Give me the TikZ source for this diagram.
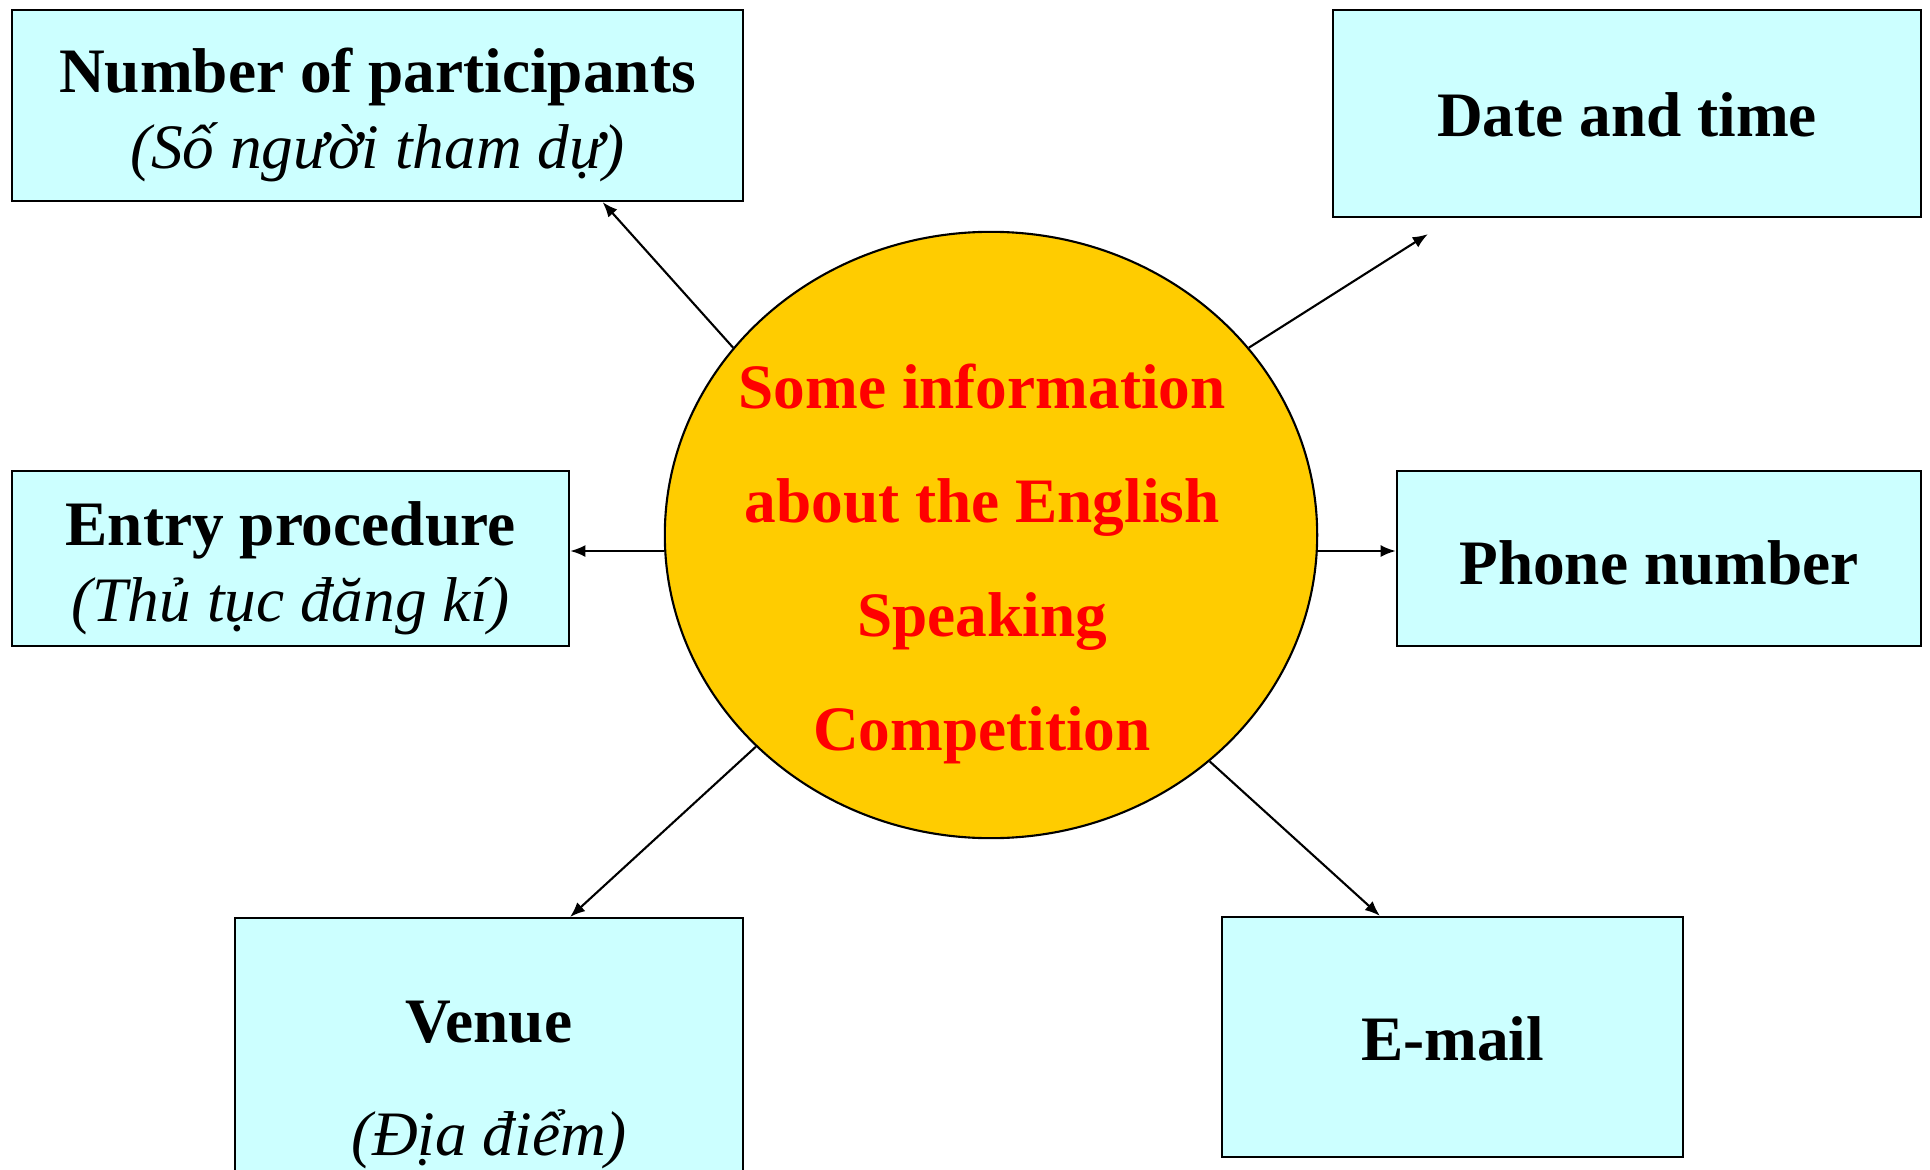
\documentclass[tikz,border=0pt]{standalone}
\usepackage{fontspec}
\setmainfont{Liberation Serif}
\usepackage{tikz}
\usetikzlibrary{positioning, shapes, arrows.meta}
\definecolor{boxcyan}{HTML}{CCFFFF}
\definecolor{discgold}{HTML}{FFCC00}
\newcommand\topgap[1]{\rule{0pt}{#1}}
\tikzset{
  infobox/.style={draw, line width=0.6pt, fill=boxcyan, inner sep=0pt, align=center,
    font=\fontsize{18pt}{21.6pt}\selectfont},
  disc/.style={ellipse, draw, line width=0.6pt, fill=discgold, inner sep=0pt},
  disctext/.style={text=red, align=center, font=\fontsize{18pt}{32.4pt}\selectfont\bfseries},
  link/.style={-{Latex[length=4.3pt, width=3.4pt]}, line width=0.6pt}}

\begin{document}
\begin{tikzpicture}[x=0.01cm, y=-0.01cm]
  \clip (0,0) rectangle (1930,1170);
  \fill[white] (0,0) rectangle (1930,1170);
    \node[infobox, minimum width=7.31cm, minimum height=1.91cm] (np) at (377.5,105.5)
      {\topgap{18pt}\textbf{Number of participants}\\\textit{(Số người tham dự)}};
    \node[infobox, minimum width=5.88cm, minimum height=2.07cm] (date) at (1627,113.5)
      {\topgap{13.5pt}\textbf{Date and time}};
        \node[infobox, minimum width=5.57cm, minimum height=1.75cm] (entry) at (290.5,558.5)
          {\topgap{18pt}\textbf{Entry procedure}\\\textit{(Thủ tục đăng kí)}};
        \node[infobox, minimum width=5.24cm, minimum height=1.75cm] (phone) at (1659,558.5)
          {\topgap{15.2pt}\textbf{Phone number}};
           \node[infobox, font=\fontsize{18pt}{32pt}\selectfont, minimum width=5.08cm,
             minimum height=3.23cm, anchor=north] (venue) at (489,917)
             {\topgap{14.7pt}\textbf{Venue}\\\textit{(Địa điểm)}};
           \node[infobox, minimum width=4.61cm, minimum height=2.40cm] (email) at (1452.5,1037)
             {\topgap{13.5pt}\textbf{E-mail}};
  \node[disc, minimum width=6.52cm, minimum height=6.06cm] (info) at (991,535) {};
  \node[disctext] (infotext) at (982,564)
    {Some information\\about the English\\Speaking\\Competition};
         \draw [link] (info.144) -- ([xshift=2.25cm]np.south);
         \draw [link] (info.36) -- ([xshift=-1.99cm, yshift=-0.16cm]date.south);
          \draw [link] ([yshift=-0.16cm]info.west) -- ([yshift=-0.16cm]info.west -| entry.east);
          \draw [link] ([yshift=-0.16cm]info.east) -- ([yshift=-0.16cm]info.east -| phone.west);
         \draw [link] (info.222) -- ([xshift=0.81cm]venue.north);
         \draw [link] (info.314) -- ([xshift=-0.725cm]email.north);
\end{tikzpicture}
\end{document}
